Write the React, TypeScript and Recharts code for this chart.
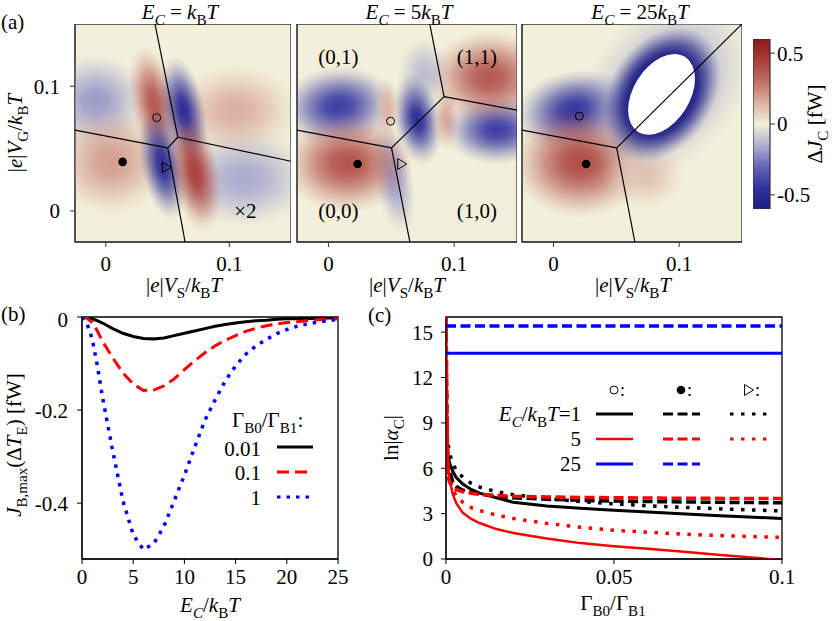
import React from 'react';
import {
  ScatterChart, Scatter, LineChart, Line, BarChart, Bar, XAxis, YAxis,
  CartesianGrid, ReferenceArea,
} from 'recharts';

const FONT = '"Liberation Serif", "DejaVu Serif", serif';
const CREAM = '#f2f0da';
const tickStyle = { fill: '#000', fontSize: 21, fontFamily: FONT };

// colour scale of the maps, value given as a fraction of the colour bar range
const CMAP: [number, string][] = [
  [-1, '#1c1c84'], [-0.75, '#31319e'], [-0.5, '#6565b6'], [-0.25, '#b0b0d0'],
  [0, CREAM], [0.25, '#dab0a2'], [0.5, '#c06e66'], [0.75, '#a83d38'], [1, '#8a1c1c'],
];

// ---------- panel (a) ----------
const vDomain: [number, number] = [-0.025, 0.15];
const vTicks = [0, 0.1];
const cbTicks = [-0.5, 0, 0.5];
const cbDomain: [number, number] = [-0.6, 0.6];
const cbData = [{ k: 'dJ', span: [-0.6, 0.6] }];

// bright / dark lobes of Delta J_C, in (V_S, V_G) units
const mapBlobs1 = [
  { x: -0.008, y: 0.088, rx: 0.042, ry: 0.038, rot: 0, v: -0.32 },
  { x: 0.004, y: 0.04, rx: 0.048, ry: 0.044, rot: 0, v: 0.32 },
  { x: 0.105, y: 0.08, rx: 0.052, ry: 0.038, rot: 0, v: 0.25 },
  { x: 0.112, y: 0.026, rx: 0.057, ry: 0.04, rot: 0, v: -0.27 },
  { x: 0.039, y: 0.086, rx: 0.019, ry: 0.047, rot: -11, v: 0.62 },
  { x: 0.063, y: 0.08, rx: 0.018, ry: 0.045, rot: -11, v: -0.85 },
  { x: 0.046, y: 0.037, rx: 0.018, ry: 0.045, rot: -11, v: -0.85 },
  { x: 0.072, y: 0.031, rx: 0.02, ry: 0.049, rot: -11, v: 0.74 },
];
const mapBlobs2 = [
  { x: 0.052, y: 0.026, rx: 0.016, ry: 0.046, rot: -10, v: -0.3 },
  { x: 0.076, y: 0.11, rx: 0.021, ry: 0.03, rot: 0, v: -0.2 },
  { x: 0.008, y: 0.084, rx: 0.046, ry: 0.032, rot: -5, v: -0.7 },
  { x: 0.015, y: 0.038, rx: 0.052, ry: 0.04, rot: 0, v: 0.65 },
  { x: 0.0707, y: 0.0734, rx: 0.019, ry: 0.037, rot: -10, v: -0.82 },
  { x: 0.0467, y: 0.082, rx: 0.01, ry: 0.026, rot: 0, v: 0.24 },
  { x: 0.0934, y: 0.0734, rx: 0.011, ry: 0.025, rot: 0, v: 0.28 },
  { x: 0.134, y: 0.065, rx: 0.042, ry: 0.028, rot: 0, v: -0.7 },
  { x: 0.128, y: 0.107, rx: 0.049, ry: 0.038, rot: 0, v: 0.62 },
];
const mapBlobs3 = [
  { x: 0.017, y: 0.081, rx: 0.048, ry: 0.032, rot: -10, v: -0.75 },
  { x: 0.021, y: 0.039, rx: 0.054, ry: 0.045, rot: 0, v: 0.68 },
  { x: 0.072, y: 0.029, rx: 0.034, ry: 0.028, rot: 0, v: 0.18 },
  { x: 0.09, y: 0.1, rx: 0.08, ry: 0.06, rot: -50, v: -0.3 },
  { x: 0.086, y: 0.0935, rx: 0.058, ry: 0.042, rot: -57, v: -1, core: 0.5 },
];
// beyond the colour range (drawn white)
const mapHole3 = [{ x: 0.086, y: 0.0935, rx: 0.0352, ry: 0.0226, rot: -58 }];

// charge-state boundaries [x1, y1, x2, y2]
const mapLines1 = [
  [0.0398, 0.15, 0.0583, 0.0591], [0.0583, 0.0591, 0.0501, 0.0506],
  [-0.025, 0.0648, 0.0501, 0.0506], [0.0501, 0.0506, 0.0642, -0.025],
  [0.0583, 0.0591, 0.15, 0.0398],
];
const mapLines2 = [
  [0.0806, 0.15, 0.092, 0.0917], [0.092, 0.0917, 0.15, 0.0809],
  [0.092, 0.0917, 0.0502, 0.0506], [-0.025, 0.0648, 0.0502, 0.0506],
  [0.0502, 0.0506, 0.0648, -0.025],
];
const mapLines3 = [
  [0.0503, 0.0506, 0.15, 0.15], [-0.025, 0.0648, 0.0503, 0.0506],
  [0.0503, 0.0506, 0.0648, -0.025],
];

const mapMarks1 = [
  { x: 0.0412, y: 0.0748, kind: 'open' }, { x: 0.0136, y: 0.0393, kind: 'full' },
  { x: 0.0493, y: 0.0349, kind: 'tri' },
];
const mapMarks2 = [
  { x: 0.0494, y: 0.072, kind: 'open' }, { x: 0.0232, y: 0.0376, kind: 'full' },
  { x: 0.0587, y: 0.0376, kind: 'tri' },
];
const mapMarks3 = [
  { x: 0.0206, y: 0.076, kind: 'open' }, { x: 0.026, y: 0.0376, kind: 'full' },
];

const mapNotes1 = [{ x: 0.113, y: 0.0, label: '×2' }];
const mapNotes2 = [
  { x: 0.008, y: 0.1238, label: '(0,1)' }, { x: 0.118, y: 0.1238, label: '(1,1)' },
  { x: 0.008, y: 0.0, label: '(0,0)' }, { x: 0.118, y: 0.0, label: '(1,0)' },
];

// ---------- panel (b) ----------
const ecRatio = [0, 0.5, 1, 1.5, 2, 3, 4, 5, 6, 7, 8, 9, 10, 11, 12, 13, 14, 15, 16, 17, 18, 19, 20, 21, 22, 23, 24, 25];
const jbG001 = [0, -0.001, -0.004, -0.008, -0.013, -0.025, -0.035, -0.042, -0.046, -0.047, -0.045, -0.04, -0.035, -0.03, -0.025, -0.02, -0.016, -0.013, -0.01, -0.008, -0.007, -0.005, -0.004, -0.004, -0.003, -0.003, -0.002, -0.002];
const jbG01 = [0, -0.003, -0.012, -0.03, -0.052, -0.088, -0.12, -0.144, -0.158, -0.157, -0.148, -0.133, -0.113, -0.094, -0.077, -0.062, -0.05, -0.04, -0.031, -0.024, -0.019, -0.015, -0.012, -0.01, -0.008, -0.006, -0.005, -0.004];
const jbG1 = [0, -0.015, -0.047, -0.105, -0.172, -0.288, -0.395, -0.468, -0.5, -0.487, -0.45, -0.395, -0.34, -0.28, -0.222, -0.178, -0.137, -0.105, -0.08, -0.062, -0.048, -0.036, -0.027, -0.02, -0.015, -0.011, -0.008, -0.005];
const bXTicks = [0, 5, 10, 15, 20, 25];
const bYTicks = [-0.4, -0.2, 0];

const rowsB = ecRatio.map((e, i) => ({ e, g001: jbG001[i], g01: jbG01[i], g1: jbG1[i] }));

// ---------- panel (c) ----------
const gammaRatio = [0, 0.0005, 0.001, 0.002, 0.003, 0.005, 0.0075, 0.01, 0.015, 0.02, 0.03, 0.04, 0.05, 0.06, 0.07, 0.08, 0.09, 0.1];
const lnA1Open = [8.5, 7.0, 6.4, 5.8, 5.4, 4.95, 4.6, 4.35, 4.05, 3.75, 3.5, 3.35, 3.22, 3.1, 2.99, 2.88, 2.78, 2.68];
const lnA1Full = [9.5, 7.0, 5.9, 5.1, 4.8, 4.55, 4.4, 4.3, 4.15, 4.05, 3.95, 3.88, 3.83, 3.8, 3.77, 3.75, 3.73, 3.72];
const lnA1Tri = [9.0, 7.8, 7.0, 6.3, 5.9, 5.4, 5.0, 4.75, 4.45, 4.25, 4.0, 3.8, 3.65, 3.52, 3.42, 3.33, 3.25, 3.18];
const lnA5Open = [16, 6.5, 5.3, 4.3, 3.7, 3.05, 2.65, 2.38, 1.98, 1.72, 1.35, 1.05, 0.84, 0.67, 0.49, 0.3, 0.11, -0.07];
const lnA5Full = [16, 5.6, 5.1, 4.75, 4.6, 4.45, 4.35, 4.28, 4.2, 4.15, 4.1, 4.07, 4.05, 4.03, 4.02, 4.01, 4.0, 4.0];
const lnA5Tri = [16, 6.0, 5.3, 4.6, 4.2, 3.75, 3.4, 3.2, 2.9, 2.68, 2.35, 2.1, 1.9, 1.77, 1.65, 1.56, 1.49, 1.43];
const lnA25Open = 13.6;
const lnA25Full = 15.4;
const cXTicks = [0, 0.05, 0.1];
const cYTicks = [0, 3, 6, 9, 12, 15];

const rowsC = gammaRatio.map((g, i) => ({
  g,
  a1o: lnA1Open[i], a1f: lnA1Full[i], a1t: lnA1Tri[i],
  a5o: lnA5Open[i], a5f: lnA5Full[i], a5t: lnA5Tri[i],
  a25o: lnA25Open, a25f: lnA25Full,
}));

// ---------- helpers ----------
const hex = (c: string) => [1, 3, 5].map((i) => parseInt(c.slice(i, i + 2), 16));
const cmap = (v: number) => {
  for (let i = 1; i < CMAP.length; i++) {
    const [v1, c1] = CMAP[i];
    if (v <= v1) {
      const [v0, c0] = CMAP[i - 1];
      const t = (v - v0) / (v1 - v0);
      const a = hex(c0), b = hex(c1);
      return `rgb(${a.map((q, k) => Math.round(q + (b[k] - q) * t)).join(',')})`;
    }
  }
  return CMAP[CMAP.length - 1][1];
};
const FALLOFF = [[0, 1], [0.25, 0.88], [0.5, 0.58], [0.7, 0.3], [0.85, 0.12], [1, 0]];

type Part = [string, string?];
const MathText = ({ x, y, parts, size = 21, anchor = 'start', rotate = 0 }: any) => {
  let shift = 0;
  const spans = (parts as Part[]).map(([t, f = ''], i) => {
    const sub = f.includes('s');
    const target = sub ? size * 0.3 : 0;
    const dy = target - shift;
    shift = target;
    return (
      <tspan key={i} dy={dy} fontStyle={f.includes('i') ? 'italic' : 'normal'} fontSize={sub ? size * 0.72 : size}>
        {t}
      </tspan>
    );
  });
  return (
    <text x={x} y={y} textAnchor={anchor} fontFamily={FONT} fontSize={size} fill="#000"
      transform={rotate ? `rotate(${rotate} ${x} ${y})` : undefined}>
      {spans}
    </text>
  );
};

const MarkShape = (props: any) => {
  const { cx, cy, payload } = props;
  if (payload.kind === 'open') return <circle cx={cx} cy={cy} r={4} fill="none" stroke="#000" strokeWidth={1} />;
  if (payload.kind === 'full') return <circle cx={cx} cy={cy} r={4.3} fill="#000" />;
  return <path d={`M${cx - 4.5},${cy - 5.5} L${cx + 4.5},${cy} L${cx - 4.5},${cy + 5.5} Z`} fill="none" stroke="#000" strokeWidth={1} />;
};

const NoteShape = (props: any) => (
  <text x={props.cx} y={props.cy} textAnchor="middle" dominantBaseline="central" fontFamily={FONT} fontSize={21} fill="#000">
    {props.payload.label}
  </text>
);

const NoPoint = () => <g />;

const MAP_H = 218;
const MAP_TOP = 24;

const HeatMap = ({ name, left, plotW, blobs, hole, lines, marks, notes, showY }: any) => {
  const yAxisW = showY ? 60 : 10;
  const span = vDomain[1] - vDomain[0];
  const kx = plotW / span;
  const ky = MAP_H / span;
  const blobShape = (props: any) => {
    const { cx, cy, payload: b } = props;
    const id = `${name}-${Math.round(b.x * 1e4)}-${Math.round(b.y * 1e4)}-${Math.round(b.rx * 1e4)}`;
    const core = b.core || 0;
    const col = cmap(b.v);
    return (
      <g transform={`translate(${cx},${cy}) rotate(${b.rot || 0})`}>
        <defs>
          <radialGradient id={id} cx="50%" cy="50%" r="50%">
            {FALLOFF.map(([t, o]) => (
              <stop key={t} offset={core + (1 - core) * t} stopColor={col} stopOpacity={o} />
            ))}
          </radialGradient>
        </defs>
        <ellipse rx={b.rx * kx} ry={b.ry * ky} fill={`url(#${id})`} />
      </g>
    );
  };
  const holeShape = (props: any) => {
    const { cx, cy, payload: b } = props;
    return (
      <ellipse transform={`translate(${cx},${cy}) rotate(${b.rot})`} rx={b.rx * kx} ry={b.ry * ky} fill="#fff" />
    );
  };
  return (
    <div style={{ position: 'absolute', left: left - yAxisW, top: MAP_TOP }}>
      <ScatterChart width={yAxisW + plotW} height={MAP_H + 50} margin={{ top: 0, right: 0, bottom: 0, left: 0 }}>
        <CartesianGrid fill={CREAM} horizontal={false} vertical={false} stroke="none" />
        <XAxis type="number" dataKey="x" domain={vDomain} ticks={vTicks} allowDataOverflow height={50}
          tickSize={5} tickMargin={9} tick={tickStyle} stroke="#333" />
        <YAxis type="number" dataKey="y" domain={vDomain} ticks={vTicks} allowDataOverflow width={yAxisW}
          tickSize={5} tickMargin={10} tick={showY ? tickStyle : false} stroke="#333" />
        <Scatter data={blobs} shape={blobShape} isAnimationActive={false} />
        {hole && <Scatter data={hole} shape={holeShape} isAnimationActive={false} />}
        {lines.map((s: number[], i: number) => (
          <Scatter key={i} data={[{ x: s[0], y: s[1] }, { x: s[2], y: s[3] }]} shape={NoPoint}
            line={{ stroke: '#000', strokeWidth: 1.2 }} isAnimationActive={false} />
        ))}
        <Scatter data={marks} shape={MarkShape} isAnimationActive={false} />
        {notes && <Scatter data={notes} shape={NoteShape} isAnimationActive={false} />}
        <ReferenceArea x1={vDomain[0]} x2={vDomain[1]} y1={vDomain[0]} y2={vDomain[1]}
          fill="none" fillOpacity={0} stroke="#333" strokeWidth={1.3} ifOverflow="visible" />
      </ScatterChart>
    </div>
  );
};

const ColorbarShape = (props: any) => {
  const { x, y, width, height } = props;
  return (
    <g>
      <defs>
        <linearGradient id="cbGrad" x1="0" y1="0" x2="0" y2="1">
          {CMAP.slice().reverse().map(([v, c]) => (
            <stop key={v} offset={`${((1 - v) / 2) * 100}%`} stopColor={c} />
          ))}
        </linearGradient>
      </defs>
      <rect x={x} y={y} width={width} height={height} fill="url(#cbGrad)" stroke="#333" strokeWidth={1.2} />
    </g>
  );
};

const titleParts = (n: string): Part[] => [['E', 'i'], ['C', 'is'], [' = '], [n], ['k', 'i'], ['B', 's'], ['T', 'i']];
const vsParts: Part[] = [['|'], ['e', 'i'], ['|'], ['V', 'i'], ['S', 's'], ['/'], ['k', 'i'], ['B', 's'], ['T', 'i']];
const vgParts: Part[] = [['|'], ['e', 'i'], ['|'], ['V', 'i'], ['G', 's'], ['/'], ['k', 'i'], ['B', 's'], ['T', 'i']];
const ecParts: Part[] = [['E', 'i'], ['C', 'is'], ['/'], ['k', 'i'], ['B', 's'], ['T', 'i']];
const gammaParts: Part[] = [['Γ'], ['B0', 's'], ['/Γ'], ['B1', 's']];

const Overlay = () => (
  <svg width={832} height={621} style={{ position: 'absolute', left: 0, top: 0, pointerEvents: 'none' }}>
    <MathText x={1} y={29} parts={[['(a)']]} />
    <MathText x={180} y={19} anchor="middle" parts={titleParts('')} />
    <MathText x={409} y={19} anchor="middle" parts={titleParts('5')} />
    <MathText x={640} y={19} anchor="middle" parts={titleParts('25')} />
    <MathText x={22} y={133} anchor="middle" rotate={-90} parts={vgParts} />
    <MathText x={184} y={292} anchor="middle" parts={vsParts} />
    <MathText x={407} y={292} anchor="middle" parts={vsParts} />
    <MathText x={633} y={292} anchor="middle" parts={vsParts} />
    <MathText x={822} y={124} anchor="middle" rotate={-90} parts={[['Δ'], ['J', 'i'], ['C', 's'], [' [fW]']]} />

    <MathText x={1} y={321} parts={[['(b)']]} />
    <MathText x={21} y={445} anchor="middle" rotate={-90}
      parts={[['J', 'i'], ['B,max', 's'], ['(Δ'], ['T', 'i'], ['E', 's'], [') [fW]']]} />
    <MathText x={210} y={612} anchor="middle" parts={ecParts} />
    <MathText x={232} y={427} parts={[...gammaParts, [':']]} />
    <MathText x={261} y={456} anchor="end" parts={[['0.01']]} />
    <MathText x={261} y={480} anchor="end" parts={[['0.1']]} />
    <MathText x={261} y={505} anchor="end" parts={[['1']]} />
    <line x1={277} x2={313} y1={447} y2={447} stroke="#000" strokeWidth={3} />
    <line x1={277} x2={313} y1={472} y2={472} stroke="#f00" strokeWidth={3} strokeDasharray="12 6" />
    <line x1={277} x2={313} y1={497} y2={497} stroke="#00f" strokeWidth={3} strokeDasharray="3.5 6" />

    <MathText x={368} y={322} parts={[['(c)']]} />
    <MathText x={398} y={438} anchor="middle" rotate={-90} parts={[['ln|'], ['α', 'i'], ['C', 's'], ['|']]} />
    <MathText x={613} y={610} anchor="middle" parts={gammaParts} />
    <circle cx={614} cy={390} r={4} fill="none" stroke="#000" strokeWidth={1} />
    <MathText x={620} y={396} size={18} parts={[[':']]} />
    <circle cx={681} cy={390} r={4.3} fill="#000" />
    <MathText x={687} y={396} size={18} parts={[[':']]} />
    <path d="M744.5,384.5 L753.5,390 L744.5,395.5 Z" fill="none" stroke="#000" strokeWidth={1} />
    <MathText x={755} y={396} size={18} parts={[[':']]} />
    <MathText x={581} y={421} anchor="end" parts={[...ecParts, ['=1']]} />
    <MathText x={581} y={446} anchor="end" parts={[['5']]} />
    <MathText x={581} y={471} anchor="end" parts={[['25']]} />
    <line x1={596} x2={633} y1={414} y2={414} stroke="#000" strokeWidth={3} />
    <line x1={663} x2={700} y1={414} y2={414} stroke="#000" strokeWidth={3} strokeDasharray="10 4.5" />
    <line x1={730} x2={768} y1={414} y2={414} stroke="#000" strokeWidth={3} strokeDasharray="3.5 7.5" />
    <line x1={596} x2={633} y1={439} y2={439} stroke="#f00" strokeWidth={2.5} />
    <line x1={663} x2={700} y1={439} y2={439} stroke="#f00" strokeWidth={3} strokeDasharray="10 4.5" />
    <line x1={730} x2={768} y1={439} y2={439} stroke="#f00" strokeWidth={3} strokeDasharray="3.5 7.5" />
    <line x1={596} x2={633} y1={464} y2={464} stroke="#00f" strokeWidth={3} />
    <line x1={663} x2={700} y1={464} y2={464} stroke="#00f" strokeWidth={3} strokeDasharray="10 4.5" />
  </svg>
);

export default function App() {
  return (
    <div style={{ position: 'absolute', left: 0, top: 0, width: 832, height: 621, background: '#fff', overflow: 'hidden' }}>
      <HeatMap name="m1" left={75} plotW={216} blobs={mapBlobs1} lines={mapLines1} marks={mapMarks1} notes={mapNotes1} showY />
      <HeatMap name="m2" left={297} plotW={220} blobs={mapBlobs2} lines={mapLines2} marks={mapMarks2} notes={mapNotes2} />
      <HeatMap name="m3" left={522} plotW={220} blobs={mapBlobs3} hole={mapHole3} lines={mapLines3} marks={mapMarks3} />

      <div style={{ position: 'absolute', left: 753, top: 39 }}>
        <BarChart width={77} height={170} data={cbData} margin={{ top: 0, right: 0, bottom: 0, left: 0 }} barCategoryGap={0}>
          <XAxis dataKey="k" hide />
          <YAxis orientation="right" type="number" domain={cbDomain} ticks={cbTicks} allowDataOverflow width={60}
            tickSize={5} tickMargin={2} tick={tickStyle} stroke="#333" axisLine={false} />
          <Bar dataKey="span" shape={ColorbarShape} isAnimationActive={false} />
        </BarChart>
      </div>

      <div style={{ position: 'absolute', left: 12, top: 307 }}>
        <LineChart width={341} height={312} data={rowsB} margin={{ top: 10, right: 15, bottom: 0, left: 0 }}>
          <XAxis type="number" dataKey="e" domain={[0, 25]} ticks={bXTicks} allowDataOverflow height={60}
            tickSize={5} tickMargin={5} tick={tickStyle} stroke="#000" />
          <YAxis type="number" domain={[-0.52, 0]} ticks={bYTicks} allowDataOverflow width={70}
            tickSize={5} tickMargin={9} tick={tickStyle} stroke="#000" />
          <Line dataKey="g001" stroke="#000" strokeWidth={3} dot={false} isAnimationActive={false} />
          <Line dataKey="g01" stroke="#f00" strokeWidth={3} strokeDasharray="12 6" dot={false} isAnimationActive={false} />
          <Line dataKey="g1" stroke="#00f" strokeWidth={3.5} strokeDasharray="3.5 6" dot={false} isAnimationActive={false} />
          <ReferenceArea x1={0} x2={25} y1={-0.52} y2={0} fill="none" fillOpacity={0} stroke="#000" strokeWidth={1.3} ifOverflow="visible" />
        </LineChart>
      </div>

      <div style={{ position: 'absolute', left: 386, top: 307 }}>
        <LineChart width={421} height={312} data={rowsC} margin={{ top: 10, right: 25, bottom: 0, left: 0 }}>
          <XAxis type="number" dataKey="g" domain={[0, 0.1]} ticks={cXTicks} allowDataOverflow height={60}
            tickSize={5} tickMargin={5} tick={tickStyle} stroke="#000" />
          <YAxis type="number" domain={[0, 16]} ticks={cYTicks} allowDataOverflow width={60}
            tickSize={5} tickMargin={8} tick={tickStyle} stroke="#000" />
          <Line dataKey="a1o" stroke="#000" strokeWidth={3} dot={false} isAnimationActive={false} />
          <Line dataKey="a1f" stroke="#000" strokeWidth={3.5} strokeDasharray="10 4.5" dot={false} isAnimationActive={false} />
          <Line dataKey="a1t" stroke="#000" strokeWidth={3.5} strokeDasharray="3.5 7.5" dot={false} isAnimationActive={false} />
          <Line dataKey="a5o" stroke="#f00" strokeWidth={2.5} dot={false} isAnimationActive={false} />
          <Line dataKey="a5f" stroke="#f00" strokeWidth={3.5} strokeDasharray="10 4.5" dot={false} isAnimationActive={false} />
          <Line dataKey="a5t" stroke="#f00" strokeWidth={3.5} strokeDasharray="3.5 7.5" dot={false} isAnimationActive={false} />
          <Line dataKey="a25o" stroke="#00f" strokeWidth={3} dot={false} isAnimationActive={false} />
          <Line dataKey="a25f" stroke="#00f" strokeWidth={3.5} strokeDasharray="10 4.5" dot={false} isAnimationActive={false} />
          <ReferenceArea x1={0} x2={0.1} y1={0} y2={16} fill="none" fillOpacity={0} stroke="#000" strokeWidth={1.3} ifOverflow="visible" />
        </LineChart>
      </div>

      <Overlay />
    </div>
  );
}
